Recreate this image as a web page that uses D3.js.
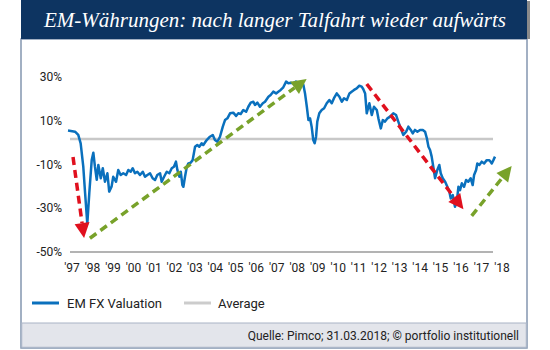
<!DOCTYPE html>
<html>
<head>
<meta charset="utf-8">
<script src="https://cdn.jsdelivr.net/npm/d3@7"></script>
<style>
  body { margin: 0; background: #fff; }
  text { font-family: Roboto, "DejaVu Sans", sans-serif; }
</style>
</head>
<body>
<div id="chart-area"></div>
<script>
/*
*    EM FX valuation chart
*/

// decimal year of each observation
var years = [
    1997.00, 1997.35, 1997.51, 1997.63, 1997.76, 1997.85, 1997.96, 1998.06, 1998.18, 1998.26,
    1998.34, 1998.43, 1998.51, 1998.63, 1998.73, 1998.84, 1998.96, 1999.05, 1999.17, 1999.25,
    1999.39, 1999.50, 1999.62, 1999.75, 1999.89, 2000.00, 2000.12, 2000.22, 2000.33, 2000.45,
    2000.58, 2000.72, 2000.83, 2000.95, 2001.08, 2001.21, 2001.33, 2001.44, 2001.58, 2001.66,
    2001.78, 2001.91, 2002.04, 2002.16, 2002.27, 2002.37, 2002.44, 2002.54, 2002.61, 2002.69,
    2002.74, 2002.82, 2002.91, 2002.99, 2003.10, 2003.20, 2003.32, 2003.43, 2003.53, 2003.65,
    2003.73, 2003.90, 2004.06, 2004.20, 2004.31, 2004.43, 2004.56, 2004.70, 2004.81, 2004.93,
    2005.06, 2005.22, 2005.36, 2005.47, 2005.59, 2005.72, 2005.86, 2005.97, 2006.09, 2006.22,
    2006.30, 2006.42, 2006.55, 2006.69, 2006.80, 2006.97, 2007.08, 2007.21, 2007.35, 2007.46,
    2007.58, 2007.71, 2007.85, 2007.96, 2008.08, 2008.21, 2008.34, 2008.46, 2008.63, 2008.71,
    2008.79, 2008.88, 2008.96, 2009.04, 2009.12, 2009.20, 2009.27, 2009.34, 2009.40, 2009.50,
    2009.62, 2009.74, 2009.87, 2010.00, 2010.12, 2010.23, 2010.37, 2010.50, 2010.62, 2010.73,
    2010.87, 2011.00, 2011.11, 2011.23, 2011.36, 2011.49, 2011.61, 2011.69, 2011.78, 2011.86,
    2011.99, 2012.11, 2012.22, 2012.36, 2012.44, 2012.56, 2012.66, 2012.77, 2012.89, 2013.02,
    2013.18, 2013.32, 2013.43, 2013.55, 2013.68, 2013.82, 2013.93, 2014.05, 2014.15, 2014.26,
    2014.38, 2014.51, 2014.65, 2014.76, 2014.85, 2014.93, 2015.01, 2015.09, 2015.17, 2015.26,
    2015.37, 2015.47, 2015.54, 2015.64, 2015.76, 2015.87, 2015.97, 2016.04, 2016.14, 2016.25,
    2016.34, 2016.42, 2016.50, 2016.59, 2016.70, 2016.80, 2016.91, 2017.03, 2017.13, 2017.20,
    2017.30, 2017.36, 2017.46, 2017.58, 2017.70, 2017.83, 2017.96, 2018.08, 2018.16, 2018.24
];

// EM FX valuation in %
var valuation = [
    5.5, 5.0, 3.5, -0.3, -11, -23, -37, -23, -8, -4.6,
    -11, -17, -10.2, -16.3, -11.7, -17.9, -14, -22.4, -20, -15.6,
    -17.9, -12.5, -14.8, -14, -14.8, -12.5, -13.3, -11.7, -14, -13.3,
    -14.8, -13.3, -15.6, -14.8, -14, -16.3, -17.1, -14.8, -14, -17.9,
    -15.6, -13.3, -14, -11.7, -11, -8.7, -12.5, -15.6, -13.3, -19.4,
    -20.2, -15.6, -11, -9.5, -9.2, -8, -1.9, -1.1, -1.9, -0.3,
    -1.1, 1.2, 2.7, 3.5, 1.2, 0.4, 2.7, 7.3, 10.3, 11.1,
    13.4, 13.7, 12.2, 13.4, 13.1, 14.9, 14.1, 16.4, 18.3, 18.7,
    17.2, 18.3, 16.4, 18, 18.7, 21, 21.8, 23.3, 22.5, 23.3,
    24.1, 25.3, 27.9, 27.1, 27.4, 27.1, 27.9, 27.4, 27.9, 26.3,
    22.5, 16.4, 10.3, 11.1, 7.3, 1.2, -0.3, 2.7, 9.6, 13.4,
    14.9, 15.7, 18, 19.5, 18, 20.3, 22.5, 21, 18.7, 20.3,
    19.5, 22.5, 23.3, 24.1, 24.8, 26.0, 25.6, 24.4, 22.5, 13.4,
    18, 12.6, 16.4, 14.9, 11.1, 6.5, 10.3, 9.6, 11.1, 11.9,
    13.4, 12.6, 9.6, 6.5, 3.5, 5, 7.3, 5.8, 4.2, 5.8,
    5, 5.8, 5.8, 5, 2, -1.9, -3.4, -6.4, -11, -16.3,
    -12.5, -10.2, -14, -16.3, -17.9, -20.2, -22.4, -25.5, -24, -29.3,
    -27, -20.2, -21.7, -18.6, -20.2, -17.1, -17.9, -16.3, -19.4, -14.8,
    -12.5, -9.5, -10.2, -8.7, -9.5, -8, -8, -9.5, -8, -6.4
];

var average = 1.7;

var yTicks = [30, 10, -10, -30, -50];
var xLabels = ["'97", "'98", "'99", "'00", "'01", "'02", "'03", "'04", "'05", "'06", "'07",
               "'08", "'09", "'10", "'11", "'12", "'13", "'14", "'15", "'16", "'17", "'18"];

// trend arrows: [fromYear, fromValue, toYear, toValue]
var arrowsRed = [[1997.25, -6.6, 1997.80, -43.6], [2011.86, 26.8, 2016.67, -30.5]];
var arrowsGreen = [[1998.09, -43.7, 2008.87, 29.1], [2017.08, -33.5, 2019.07, -10.7]];

var width = 550;
var height = 350;

var svg = d3.select("#chart-area").append("svg")
    .attr("width", width)
    .attr("height", height);

// frame
svg.append("rect")
    .attr("x", 21).attr("y", 39)
    .attr("width", 506).attr("height", 309)
    .attr("fill", "#fff")
    .attr("stroke", "#8496b0")
    .attr("stroke-width", 1.5);

svg.append("rect")
    .attr("x", 21.75).attr("y", 323)
    .attr("width", 504.5).attr("height", 24.25)
    .attr("fill", "#e3e5eb")
    .attr("stroke", "#a9b4c6")
    .attr("stroke-width", 1);

// title bar
svg.append("rect")
    .attr("x", 527).attr("y", 1)
    .attr("width", 3).attr("height", 38)
    .attr("fill", "#8a8a8a");

svg.append("rect")
    .attr("x", 21).attr("y", 0)
    .attr("width", 506).attr("height", 39)
    .attr("fill", "#0d3461");

svg.append("text")
    .attr("x", 275)
    .attr("y", 27)
    .attr("text-anchor", "middle")
    .attr("textLength", 462)
    .attr("lengthAdjust", "spacingAndGlyphs")
    .style("font-family", "'Liberation Serif', 'DejaVu Serif', serif")
    .style("font-style", "italic")
    .style("font-size", "22px")
    .style("fill", "white")
    .text("EM-Währungen: nach langer Talfahrt wieder aufwärts");

// scales
var x = d3.scaleLinear().domain([1997, 2018.24]).range([68, 495]);
var y = d3.scaleLinear().domain([-50, 30]).range([252, 77]);
var xBand = d3.scalePoint().domain(xLabels).range([72, 502]);

// y labels
svg.selectAll(".ylab").data(yTicks).enter().append("text")
    .attr("class", "ylab")
    .attr("x", 62)
    .attr("y", (d) => y(d) + 4)
    .attr("text-anchor", "end")
    .style("font-size", "12px")
    .style("fill", "#222")
    .text((d) => d + "%");

// x labels
svg.selectAll(".xlab").data(xLabels).enter().append("text")
    .attr("class", "xlab")
    .attr("x", (d) => xBand(d))
    .attr("y", 272)
    .attr("text-anchor", "middle")
    .style("font-size", "12px")
    .style("fill", "#222")
    .text((d) => d);

// base line and average
svg.append("line")
    .attr("x1", 70).attr("x2", 493)
    .attr("y1", y(-50)).attr("y2", y(-50))
    .attr("stroke", "#9a9a9a")
    .attr("stroke-width", 1.5);

svg.append("line")
    .attr("x1", 70).attr("x2", 493)
    .attr("y1", y(average)).attr("y2", y(average))
    .attr("stroke", "#c8c8c8")
    .attr("stroke-width", 2.5);

// valuation line
var data = years.map((d, i) => ({ year: d, value: valuation[i] }));

var line = d3.line()
    .x((d) => x(d.year))
    .y((d) => y(d.value));

svg.append("path")
    .datum(data)
    .attr("d", line)
    .attr("fill", "none")
    .attr("stroke", "#0a70bd")
    .attr("stroke-width", 2.5)
    .attr("stroke-linejoin", "round");

// arrows
function drawArrow(a, color) {
    var x1 = x(a[0]), y1 = y(a[1]), x2 = x(a[2]), y2 = y(a[3]);
    var ang = Math.atan2(y2 - y1, x2 - x1);
    var len = 15, half = 7.5;
    var bx = x2 - len * Math.cos(ang), by = y2 - len * Math.sin(ang);

    svg.append("line")
        .attr("x1", x1).attr("y1", y1)
        .attr("x2", bx).attr("y2", by)
        .attr("stroke", color)
        .attr("stroke-width", 3.5)
        .attr("stroke-dasharray", "8,5");

    var px = -Math.sin(ang) * half, py = Math.cos(ang) * half;
    svg.append("polygon")
        .attr("points", [[x2, y2], [bx + px, by + py], [bx - px, by - py]].join(" "))
        .attr("fill", color);
}

arrowsRed.forEach((a) => drawArrow(a, "#e0101e"));
arrowsGreen.forEach((a) => drawArrow(a, "#78a22a"));

// legend
svg.append("line")
    .attr("x1", 32).attr("x2", 59)
    .attr("y1", 303).attr("y2", 303)
    .attr("stroke", "#0a70bd")
    .attr("stroke-width", 3);

svg.append("text")
    .attr("x", 67).attr("y", 308)
    .style("font-size", "13px")
    .style("fill", "#222")
    .text("EM FX Valuation");

svg.append("line")
    .attr("x1", 184).attr("x2", 211)
    .attr("y1", 303).attr("y2", 303)
    .attr("stroke", "#cccccc")
    .attr("stroke-width", 3);

svg.append("text")
    .attr("x", 218).attr("y", 308)
    .style("font-size", "13px")
    .style("fill", "#222")
    .text("Average");

// source
svg.append("text")
    .attr("x", 519).attr("y", 340)
    .attr("text-anchor", "end")
    .style("font-size", "12px")
    .style("fill", "#222")
    .text("Quelle: Pimco; 31.03.2018; © portfolio institutionell");
</script>
</body>
</html>
